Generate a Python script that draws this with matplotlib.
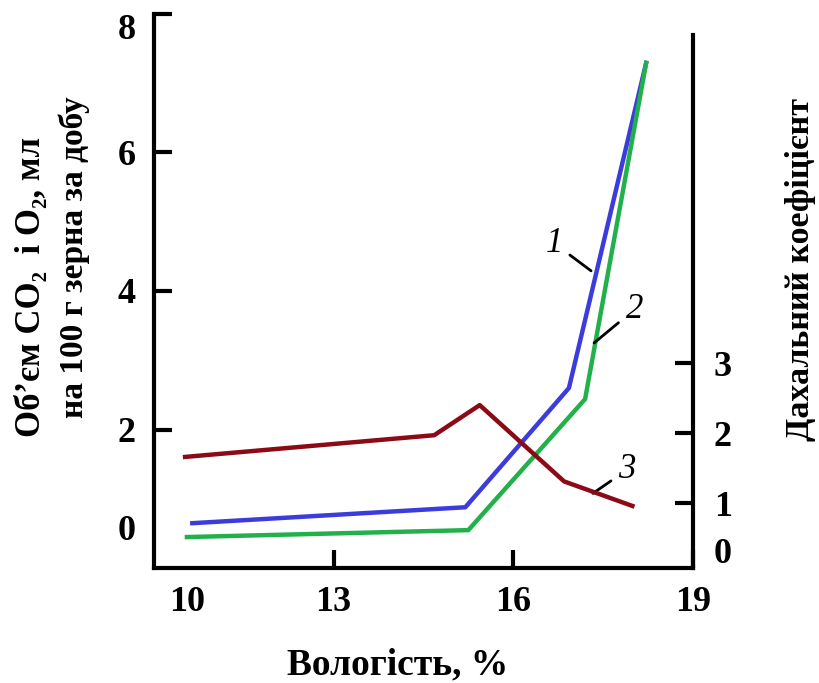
import matplotlib.pyplot as plt

plt.rcParams['font.family'] = ['Liberation Serif', 'DejaVu Serif']
plt.rcParams['font.weight'] = 'bold'

# data (moisture %, left axis ml / right axis coefficient)
x_co2 = [10.64, 15.20, 16.93, 18.22]
co2 = [0.65, 0.88, 2.60, 7.29]
x_o2 = [10.55, 15.25, 17.20, 18.22]
o2 = [0.45, 0.55, 2.44, 7.29]
x_rq = [10.52, 14.68, 15.44, 16.85, 17.99]
rq = [1.66, 1.97, 2.40, 1.31, 0.96]

x_ticks = [10.55, 13, 16, 19]
x_labels = ['10', '13', '16', '19']
left_ticks = [0.59, 2, 4, 6, 8]
left_labels = ['0', '2', '4', '6', '8']
right_ticks = [0.33, 1, 2, 3]
right_labels = ['0', '1', '2', '3']

blue = '#3c3cdc'
green = '#22b04a'
red = '#8c0a16'

fig = plt.figure(figsize=(8.19, 6.83), dpi=100)
ax = fig.add_axes([0.188, 0.168, 0.658, 0.812])
ax2 = ax.twinx()

ax.plot(x_co2, co2, color=blue, lw=3.2)
ax.plot(x_o2, o2, color=green, lw=3.2)
ax2.plot(x_rq, rq, color=red, lw=3.2)

ax.set_xlim(10, 19)
ax.set_ylim(0, 8)
ax2.set_ylim(0.07, 7.99)

for s in ['top', 'right']:
    ax.spines[s].set_visible(False)
for s in ['top', 'left', 'bottom']:
    ax2.spines[s].set_visible(False)
for s in ['left', 'bottom']:
    ax.spines[s].set_linewidth(3)
ax2.spines['right'].set_linewidth(3)
ax2.spines['right'].set_bounds(0.07, 7.69)

ax.set_xticks(x_ticks, x_labels)
ax.set_yticks(left_ticks, left_labels)
ax2.set_yticks(right_ticks, right_labels)
ax.tick_params(axis='x', direction='in', length=13, width=3, labelsize=26, pad=13)
ax.tick_params(axis='y', direction='in', length=13, width=3, labelsize=26, pad=13)
ax2.tick_params(axis='y', direction='in', length=13, width=3, labelsize=26, pad=15)
ax.xaxis.get_major_ticks()[0].tick1line.set_visible(False)
ax.yaxis.get_major_ticks()[0].tick1line.set_visible(False)
ax2.yaxis.get_major_ticks()[0].tick2line.set_visible(False)
# the top label sits a little below its tick in the original
ax.yaxis.get_major_ticks()[-1].label1.set_va('top')

# curve numbers with leader lines
arrow = dict(arrowstyle='-', lw=2, color='black', shrinkA=4, shrinkB=0)
ax.annotate('1', xy=(17.30, 4.29), xytext=(16.68, 4.69), fontsize=25,
            style='italic', weight='normal', ha='center', va='center', arrowprops=arrow)
ax.annotate('2', xy=(17.35, 3.25), xytext=(18.02, 3.73), fontsize=25,
            style='italic', weight='normal', ha='center', va='center', arrowprops=arrow)
ax.annotate('3', xy=(17.33, 1.08), xytext=(17.90, 1.42), fontsize=25,
            style='italic', weight='normal', ha='center', va='center', arrowprops=arrow)

fig.text(398 / 819, 1 - 665 / 683, 'Вологість, %', fontsize=27,
         ha='center', va='center')
fig.text(32 / 819, 1 - 287 / 683, 'Об’єм CO₂  і O₂, мл', fontsize=25,
         rotation=90, ha='center', va='center')
fig.text(74 / 819, 1 - 257 / 683, 'на 100 г зерна за добу', fontsize=24,
         rotation=90, ha='center', va='center')
fig.text(801 / 819, 1 - 270 / 683, 'Дахальний коефіцієнт', fontsize=24.5,
         rotation=90, ha='center', va='center')

fig.savefig('out.png', dpi=100)
